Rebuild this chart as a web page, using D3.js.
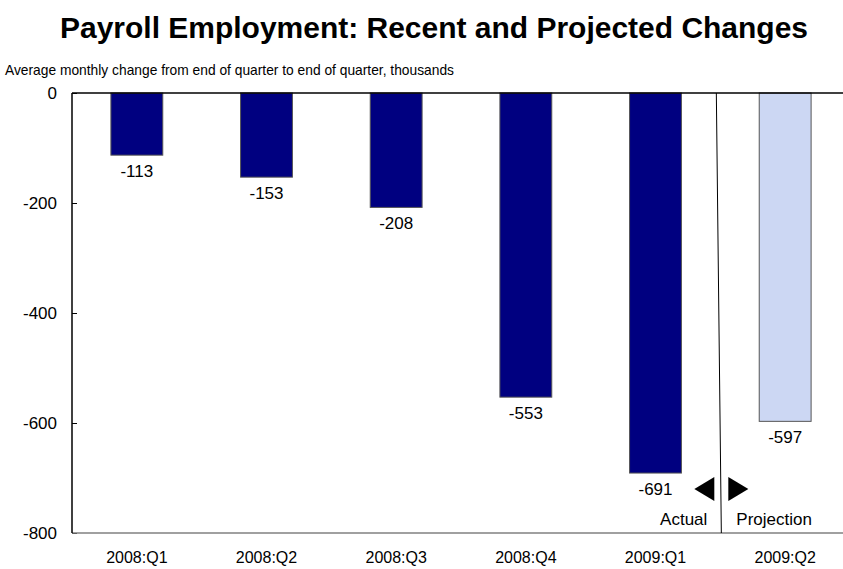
<!DOCTYPE html>
<html>
<head>
<meta charset="utf-8">
<script src="https://cdn.jsdelivr.net/npm/d3@7"></script>
<style>
  body { margin: 0; background: #fff; }
  svg { display: block; font-family: "Liberation Sans", Arial, sans-serif; }
</style>
</head>
<body>
<div id="plot"></div>
<script>
// chart data
const quarters = ["2008:Q1", "2008:Q2", "2008:Q3", "2008:Q4", "2009:Q1", "2009:Q2"];
const changes = [-113, -153, -208, -553, -691, -597];
const projected = [false, false, false, false, false, true];
const yTicks = [0, -200, -400, -600, -800];

const svgWidth = 843, svgHeight = 569;
const margin = { top: 93, right: -7, bottom: 36, left: 72 };
const width = svgWidth - margin.left - margin.right;
const height = svgHeight - margin.top - margin.bottom;

const svg = d3.select('#plot')
    .append('svg')
    .attr("width", svgWidth)
    .attr("height", svgHeight);

// title + subtitle
svg.append("text")
    .attr("x", 434)
    .attr("y", 38)
    .attr("text-anchor", "middle")
    .attr("font-size", 29)
    .attr("font-weight", "bold")
    .attr("textLength", 748)
    .attr("lengthAdjust", "spacingAndGlyphs")
    .text("Payroll Employment: Recent and Projected Changes");

svg.append("text")
    .attr("x", 5)
    .attr("y", 75)
    .attr("font-size", 15)
    .attr("textLength", 449)
    .attr("lengthAdjust", "spacingAndGlyphs")
    .text("Average monthly change from end of quarter to end of quarter, thousands");

const g = svg.append("g")
    .attr("transform", "translate(" + margin.left + "," + margin.top + ")");

const x = d3.scaleBand()
    .domain(quarters)
    .range([0, width])
    .paddingInner(0.6)
    .paddingOuter(0.3);

const y = d3.scaleLinear()
    .domain([-800, 0])
    .range([height, 0]);

// bars
g.selectAll(".bar")
    .data(quarters)
    .enter()
    .append("rect")
    .attr("x", d => x(d))
    .attr("y", y(0))
    .attr("width", x.bandwidth())
    .attr("height", (d, i) => y(changes[i]) - y(0))
    .attr("fill", (d, i) => projected[i] ? "#ccd7f3" : "#000080")
    .attr("stroke", "#555")
    .attr("stroke-width", 1);

// value labels
g.selectAll(".val")
    .data(quarters)
    .enter()
    .append("text")
    .attr("x", d => x(d) + x.bandwidth() / 2)
    .attr("y", (d, i) => y(changes[i]) + 22)
    .attr("text-anchor", "middle")
    .attr("font-size", 17)
    .text((d, i) => String(changes[i]));

// y axis
const yAxis = g.append("g")
    .call(d3.axisLeft(y).tickValues(yTicks).tickFormat(d => String(d))
        .tickSizeInner(-5).tickSizeOuter(0).tickPadding(15));
yAxis.select(".domain").remove();
yAxis.selectAll("text").attr("font-size", 17).attr("font-family", "Liberation Sans, Arial, sans-serif");
yAxis.selectAll("line").attr("stroke", "#000");

// x axis labels
const xAxis = g.append("g")
    .attr("transform", "translate(0," + height + ")")
    .call(d3.axisBottom(x).tickSize(0).tickPadding(19));
xAxis.select(".domain").remove();
xAxis.selectAll("text").attr("font-size", 16).attr("font-family", "Liberation Sans, Arial, sans-serif");

// frame lines
g.append("line")
    .attr("x1", 0).attr("x2", width)
    .attr("y1", y(-800)).attr("y2", y(-800))
    .attr("stroke", "#808080").attr("stroke-width", 1.5);
g.append("line")
    .attr("x1", 0).attr("x2", width)
    .attr("y1", y(0)).attr("y2", y(0))
    .attr("stroke", "#000").attr("stroke-width", 1.5);
g.append("line")
    .attr("x1", 0).attr("x2", 0)
    .attr("y1", y(0)).attr("y2", y(-800))
    .attr("stroke", "#000").attr("stroke-width", 1.5);

// actual / projection divider
const split = x("2009:Q2") - x.step() * x.paddingInner() / 2;
g.append("line")
    .attr("x1", split - 4).attr("x2", split + 1)
    .attr("y1", y(0)).attr("y2", y(-800))
    .attr("stroke", "#000").attr("stroke-width", 1);

const ay = y(-720);
g.append("path")
    .attr("d", d3.line()([[split - 26, ay], [split - 6, ay - 12], [split - 6, ay + 12]]) + "Z")
    .attr("fill", "#000");
g.append("path")
    .attr("d", d3.line()([[split + 28, ay], [split + 8, ay - 12], [split + 8, ay + 12]]) + "Z")
    .attr("fill", "#000");

g.append("text")
    .attr("x", split - 13)
    .attr("y", y(-785))
    .attr("text-anchor", "end")
    .attr("font-size", 17)
    .text("Actual");
g.append("text")
    .attr("x", split + 16)
    .attr("y", y(-785))
    .attr("font-size", 17)
    .text("Projection");
</script>
</body>
</html>
